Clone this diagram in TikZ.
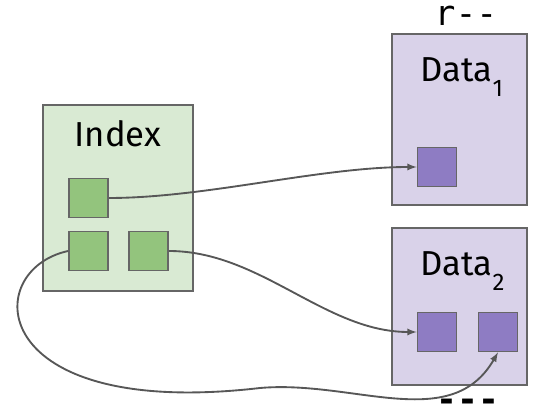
\documentclass[tikz,border=0pt]{standalone}
\usepackage{fontspec}
\setmainfont{Fira Sans}
\setmonofont{DejaVu Sans Mono}
\usetikzlibrary{arrows,shapes}

\definecolor{idxfill}{HTML}{D9EAD3}
\definecolor{idxkey}{HTML}{93C47D}
\definecolor{datfill}{HTML}{D9D2E9}
\definecolor{datkey}{HTML}{8E7CC3}
\definecolor{edge}{HTML}{666666}

\newcommand{\lowsub}[1]{\raisebox{-0.42em}{\fontsize{18}{18}\selectfont #1}}

\begin{document}
\begin{tikzpicture}[x=0.75pt,y=-0.75pt,
	box/.style={rectangle,draw=edge,line width=1.3pt,inner sep=0pt},
	index node/.style={box,fill=idxfill,minimum width=112.5pt,minimum height=139.5pt},
	data node/.style={box,fill=datfill,minimum width=101.25pt},
	key node/.style={box,fill=idxkey,minimum size=29.25pt},
	item node/.style={box,fill=datkey,minimum size=29.25pt},
	label/.style={font=\fontsize{26}{28}\selectfont},
	mark text/.style={inner sep=0pt,font=\ttfamily\fontsize{26}{28}\selectfont},
	link/.style={->,>=latex,draw=edge!85!black,line width=1.4pt}
]
	\useasboundingbox (0,0) rectangle (537,413);

	% index
	\node[index node] (idx) at (118,198) {};
	\node[label] (idxname) at (118,134) {Index};
	\node[key node] (k1) at (88.5,198) {};
	\node[key node] (k2) at (88.5,251) {};
	\node[key node] (k3) at (148.5,251) {};

	% data blocks
	\node[data node,minimum height=128.25pt] (d1) at (459.5,119.5) {};
	\node[label,anchor=base west] (d1name) at (416,82) {Data\lowsub{1}};
	\node[item node] (p1) at (437,167) {};

	\node[data node,minimum height=117.75pt] (d2) at (459.5,306.5) {};
	\node[label,anchor=base west] (d2name) at (416,276) {Data\lowsub{2}};
	\node[item node] (p2) at (437,332) {};
	\node[item node] (p3) at (498,332) {};

	\node[mark text,anchor=base] (top) at (466,26) {r--};
	\node[mark text,font=\ttfamily\bfseries\fontsize{26}{28}\selectfont,anchor=base] (bot) at (468,412) {---};

	% pointers
	\draw[link] (k1.east) to[out=0,in=180,looseness=0.8] (p1.west);
	\draw[link] (k3.east) to[out=0,in=180,looseness=0.9] (p2.west);
	\draw[link] (k2.west) .. controls (-20,270) and (-15,420) .. (260,388)
		to[out=5,in=-120] (p3.south);
\end{tikzpicture}
\end{document}
